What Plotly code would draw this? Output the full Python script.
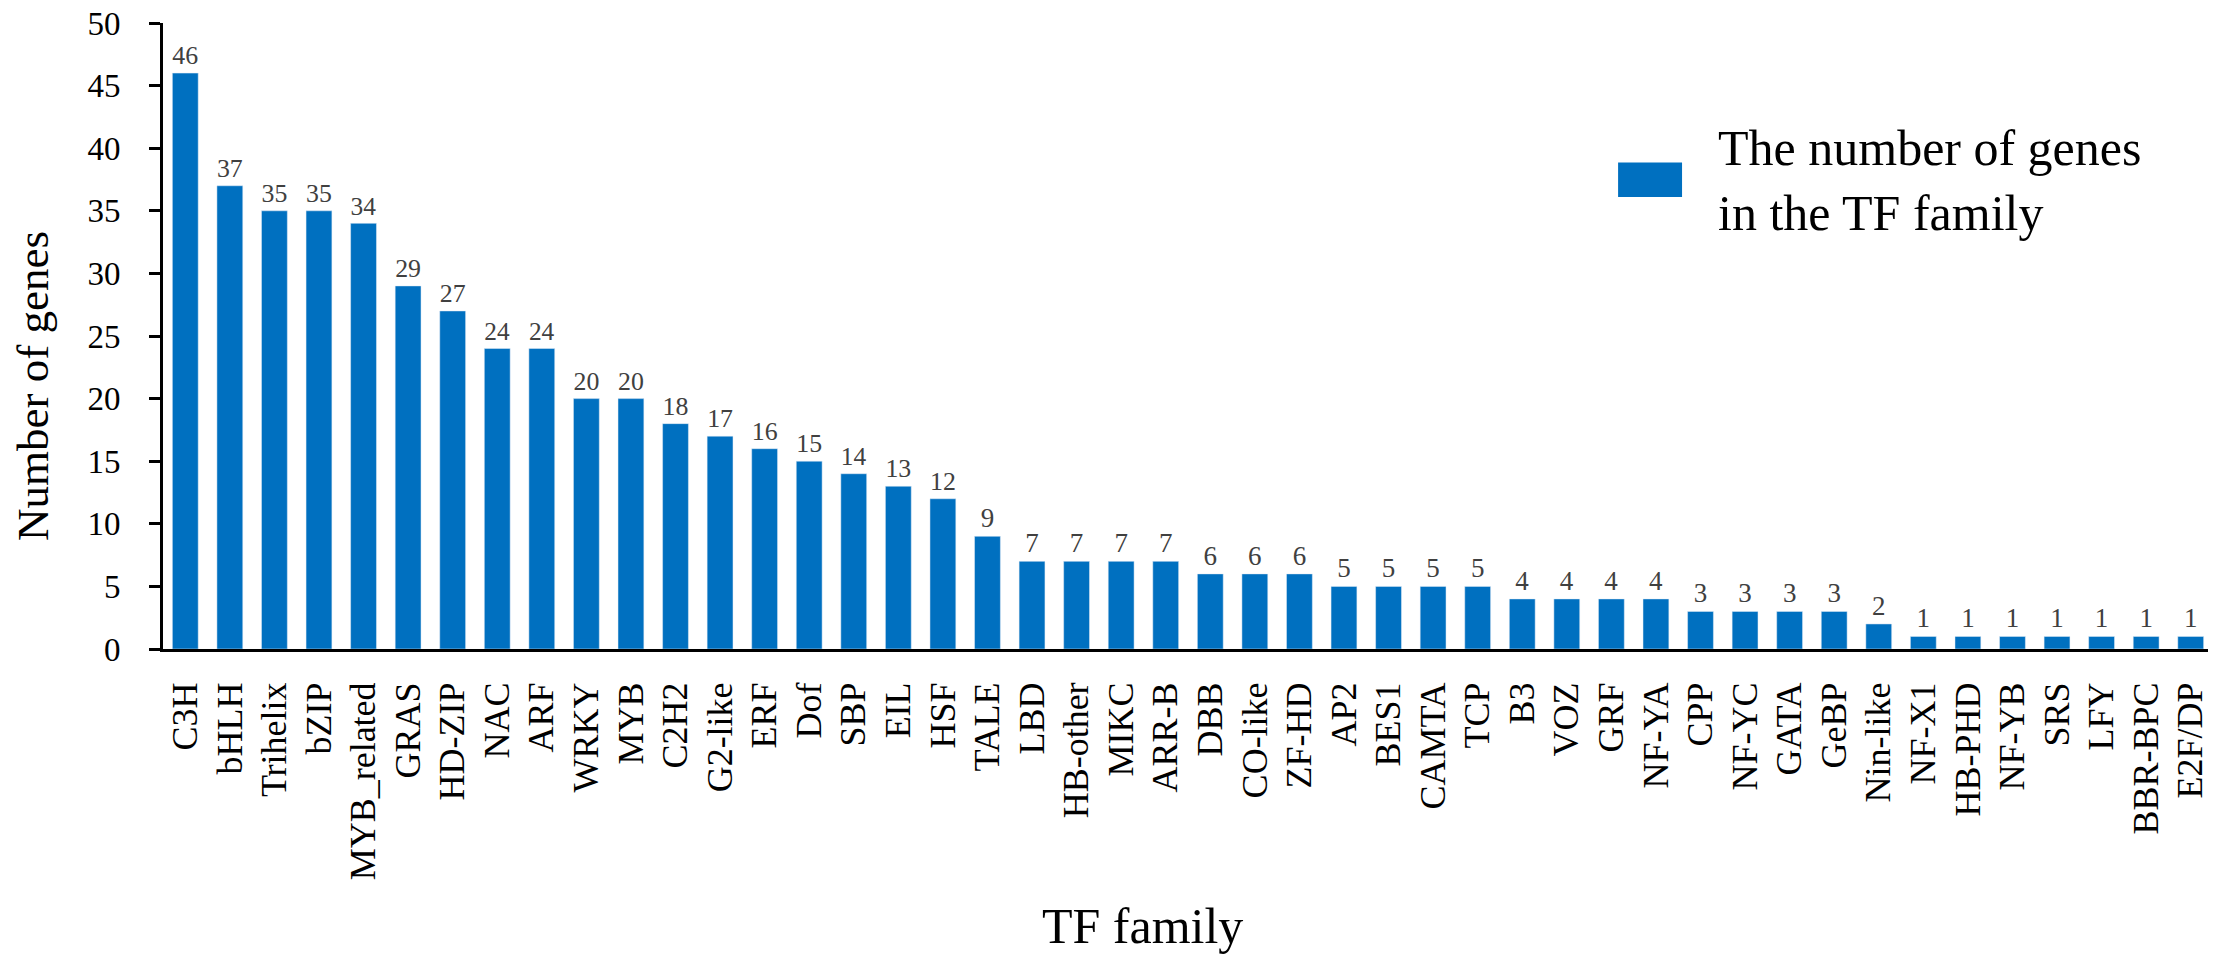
import plotly.graph_objects as go

families = ["C3H", "bHLH", "Trihelix", "bZIP", "MYB_related", "GRAS", "HD-ZIP", "NAC", "ARF",
            "WRKY", "MYB", "C2H2", "G2-like", "ERF", "Dof", "SBP", "EIL", "HSF", "TALE", "LBD",
            "HB-other", "MIKC", "ARR-B", "DBB", "CO-like", "ZF-HD", "AP2", "BES1", "CAMTA", "TCP",
            "B3", "VOZ", "GRF", "NF-YA", "CPP", "NF-YC", "GATA", "GeBP", "Nin-like", "NF-X1",
            "HB-PHD", "NF-YB", "SRS", "LFY", "BBR-BPC", "E2F/DP"]
gene_counts = [46, 37, 35, 35, 34, 29, 27, 24, 24, 20, 20, 18, 17, 16, 15, 14, 13, 12, 9, 7,
               7, 7, 7, 6, 6, 6, 5, 5, 5, 5, 4, 4, 4, 4, 3, 3, 3, 3, 2, 1,
               1, 1, 1, 1, 1, 1]
y_ticks = [0, 5, 10, 15, 20, 25, 30, 35, 40, 45, 50]
legend_text = "The number of genes<br>in the TF family"

serif = "Liberation Serif"
blue = "#0070C0"

fig = go.Figure()
fig.add_trace(go.Bar(x=families, y=gene_counts, marker_color=blue,
                     text=gene_counts, textposition="outside", cliponaxis=False,
                     textfont=dict(family=serif, size=27, color="#404040"),
                     name="The number of genes in the TF family", showlegend=False))

# legend drawn by hand so the swatch matches the wide rectangle of the original
fig.add_shape(type="rect", xref="paper", yref="paper", x0=0.7098, x1=0.741, y0=0.722, y1=0.777,
              fillcolor=blue, line_width=0)
fig.add_annotation(text=legend_text, xref="paper", yref="paper", x=0.7576, y=0.748,
                   xanchor="left", yanchor="middle", align="left", showarrow=False,
                   font=dict(family=serif, size=50, color="black"))

# axis titles as annotations (they sit off-centre in the original)
fig.add_annotation(text="TF family", xref="paper", yref="paper", x=0.478, y=-0.443,
                   xanchor="center", yanchor="middle", showarrow=False,
                   font=dict(family=serif, size=50, color="black"))
fig.add_annotation(text="Number of genes", xref="paper", yref="paper", x=-0.0635, y=0.42,
                   xanchor="center", yanchor="middle", textangle=-90, showarrow=False,
                   font=dict(family=serif, size=45, color="black"))

# page body adds an 8px offset, so margins are shifted up/left by 8
fig.update_layout(
    width=2216, height=955,
    margin=dict(l=155, r=11, t=15, b=314),
    plot_bgcolor="white", paper_bgcolor="white",
    bargap=0.42,
    font=dict(family=serif, color="black"),
    xaxis=dict(tickangle=-90, tickfont=dict(size=36), showline=True, linecolor="black",
               linewidth=3, ticks="", ticklabelstandoff=16, range=[-0.5, 45.5],
               automargin=False),
    yaxis=dict(range=[0, 50], tickvals=y_ticks, tickfont=dict(size=33), showline=True,
               linecolor="black", linewidth=3, ticks="outside", ticklen=11, tickwidth=3,
               tickcolor="black", showgrid=False, zeroline=False, ticklabelstandoff=22,
               ticklabeloverflow="allow", automargin=False),
)

fig.write_html("out.html")
